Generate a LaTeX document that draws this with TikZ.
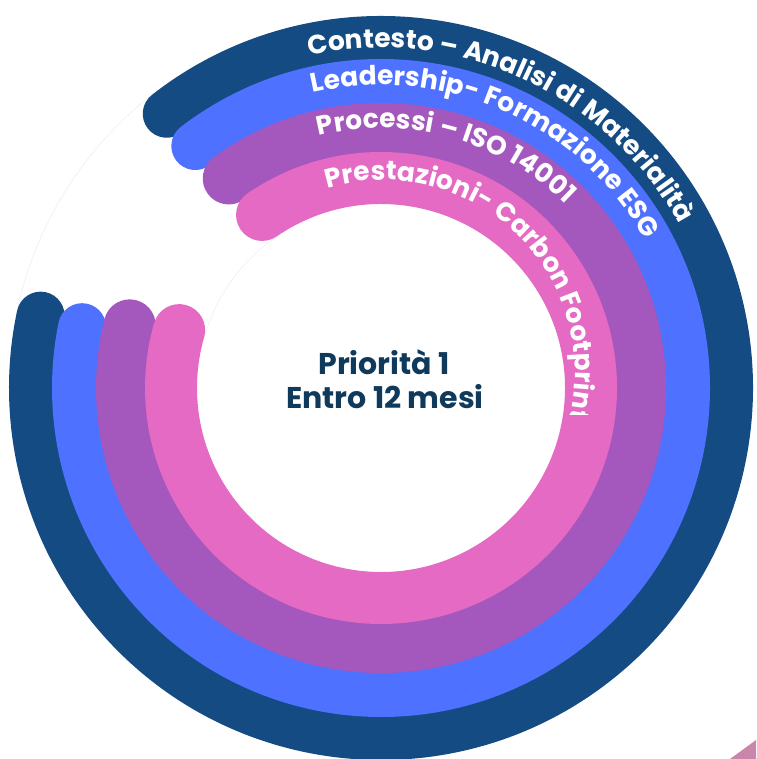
\documentclass[tikz,border=0pt]{standalone}
\usepackage{fontspec}
\setmainfont{Poppins}
\usetikzlibrary{decorations.text,calc}
\definecolor{cdark}{HTML}{144B82}
\definecolor{cblue}{HTML}{4E71FF}
\definecolor{cpurple}{HTML}{A457BC}
\definecolor{cpink}{HTML}{E46AC3}
\definecolor{cnavy}{HTML}{0F3A5C}
\definecolor{ccorner}{HTML}{C886AA}
\newcommand\ringfont{\bfseries\fontsize{26.5}{30}\selectfont}
\begin{document}
\begin{tikzpicture}[x=1pt,y=1pt,
  ring/.style={line width=#1, line cap=round},
  ringtext/.style={decorate, decoration={text along path, text align=left, text color=white, text={|\ringfont|#1}}},
  centertext/.style={anchor=base, text=cnavy, font=\bfseries\fontsize{30}{34}\selectfont, inner sep=0pt}
]
\useasboundingbox (-381,-371) rectangle (375,388);
% faint tracks in the gap
\draw[black!6, line width=0.7] (168:372) arc[start angle=168, end angle=128, radius=372];
\draw[black!6, line width=0.7] (164:184) arc[start angle=164, end angle=124, radius=184];
% rings, outer first
\draw[ring=48, cdark] (128:348) arc[start angle=128, end angle=-192, radius=348];
\draw[ring=48, cblue] (127.5:305) arc[start angle=127.5, end angle=-191.5, radius=305];
\draw[ring=52, cpurple] (126:259) arc[start angle=126, end angle=-194, radius=259];
\draw[ring=52, cpink] (124.5:210) arc[start angle=124.5, end angle=-196, radius=210];
% ring labels
\path[ringtext={Contesto – Analisi di Materialità}] (102.2:340) arc[start angle=102.2, end angle=-40, radius=340];
\path[ringtext={Leadership- Formazione ESG}] (103:303) arc[start angle=103, end angle=-40, radius=303];
\path[ringtext={Processi – ISO 14001}] (103.8:260) arc[start angle=103.8, end angle=-40, radius=260];
\begin{scope}
\clip (-381,-27) rectangle (375,388);
\path[ringtext={Prestazioni- Carbon Footprint}] ($(2,16)+(106.8:192)$) arc[start angle=106.8, end angle=-60, radius=192];
\end{scope}
% corner fragment
\fill[ccorner] (349,-371) -- (375,-352) -- (375,-371) -- cycle;
% centre text
\node[centertext] (p1) at (3,13) {Priorità 1};
\node[centertext] (p2) at (4,-21) {Entro 12 mesi};
\end{tikzpicture}
\end{document}
